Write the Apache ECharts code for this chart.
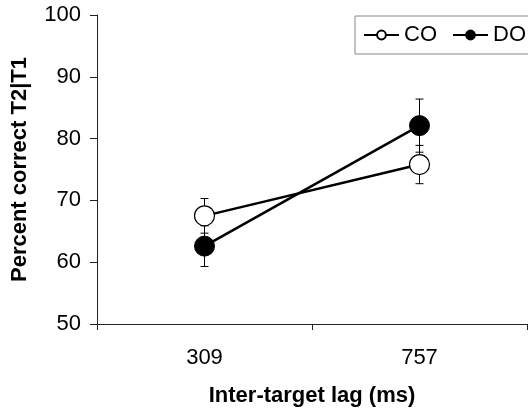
<!DOCTYPE html>
<html><head><meta charset="utf-8">
<script src="https://cdn.jsdelivr.net/npm/echarts@6/dist/echarts.min.js"></script>
<style>html,body{margin:0;padding:0;background:#fff}#c{width:528px;height:409px}</style>
</head><body><div id="c"></div>
<script>
const categories = ['309', '757'];
const coValues = [67.5, 75.8];
const coErrors = [2.8, 3.1];
const doValues = [62.6, 82.1];
const doErrors = [3.3, 4.3];
const yTicks = [50, 60, 70, 80, 90, 100];

function errData(vals, errs) {
  return vals.map((v, i) => [i, v - errs[i], v + errs[i]]);
}
function errSeries(name, vals, errs) {
  return {
    type: 'custom', name: name + ' err', z: 1, silent: true,
    data: errData(vals, errs),
    renderItem: function (params, api) {
      const x = api.value(0);
      const lo = api.coord([x, api.value(1)]);
      const hi = api.coord([x, api.value(2)]);
      const w = 4;
      const st = { stroke: '#000', lineWidth: 1 };
      return { type: 'group', children: [
        { type: 'line', shape: { x1: lo[0], y1: lo[1], x2: hi[0], y2: hi[1] }, style: st },
        { type: 'line', shape: { x1: lo[0] - w, y1: lo[1], x2: lo[0] + w, y2: lo[1] }, style: st },
        { type: 'line', shape: { x1: hi[0] - w, y1: hi[1], x2: hi[0] + w, y2: hi[1] }, style: st }
      ]};
    }
  };
}
const font = 'Liberation Sans, Arial, sans-serif';
const chart = echarts.init(document.getElementById('c'));
chart.setOption({
  animation: false,
  backgroundColor: '#fff',
  grid: { left: 97, right: 1, top: 15, bottom: 85, containLabel: false, outerBoundsMode: 'none' },
  legend: {
    data: ['CO', 'DO'], left: 355, top: 16, width: 220, orient: 'horizontal',
    borderColor: '#888', borderWidth: 1, padding: [8, 30, 8, 8],
    itemGap: 15, itemWidth: 35, itemHeight: 11,
    textStyle: { fontFamily: font, fontSize: 22, color: '#000' }
  },
  xAxis: {
    type: 'category', data: categories, boundaryGap: true,
    axisLine: { lineStyle: { color: '#222', width: 1 } },
    axisTick: { show: true, inside: false, length: 6, alignWithLabel: false, lineStyle: { color: '#222' } },
    axisLabel: { fontFamily: font, fontSize: 22, color: '#000', margin: 23 },
    name: 'Inter-target lag (ms)', nameLocation: 'middle', nameGap: 61,
    nameTextStyle: { fontFamily: font, fontSize: 22, fontWeight: 'bold', color: '#000' }
  },
  yAxis: {
    type: 'value', min: 50, max: 100, interval: 10,
    axisLine: { show: true, lineStyle: { color: '#222', width: 1 } },
    axisTick: { show: true, length: 7, lineStyle: { color: '#222' } },
    splitLine: { show: false },
    axisLabel: { fontFamily: font, fontSize: 22, color: '#000', margin: 16,
      formatter: v => yTicks.includes(v) ? String(v) : '' },
    name: 'Percent correct T2|T1', nameLocation: 'middle', nameGap: 66,
    nameTextStyle: { fontFamily: font, fontSize: 22, fontWeight: 'bold', color: '#000' }
  },
  series: [
    errSeries('CO', coValues, coErrors),
    errSeries('DO', doValues, doErrors),
    { name: 'CO', type: 'line', data: coValues, z: 3, symbol: 'circle', symbolSize: 20,
      lineStyle: { color: '#000', width: 2.5 },
      itemStyle: { color: '#fff', borderColor: '#000', borderWidth: 1.2 } },
    { name: 'DO', type: 'line', data: doValues, z: 4, symbol: 'circle', symbolSize: 20,
      lineStyle: { color: '#000', width: 2.5 },
      itemStyle: { color: '#000', borderColor: '#000', borderWidth: 1 } }
  ]
});
</script></body></html>
